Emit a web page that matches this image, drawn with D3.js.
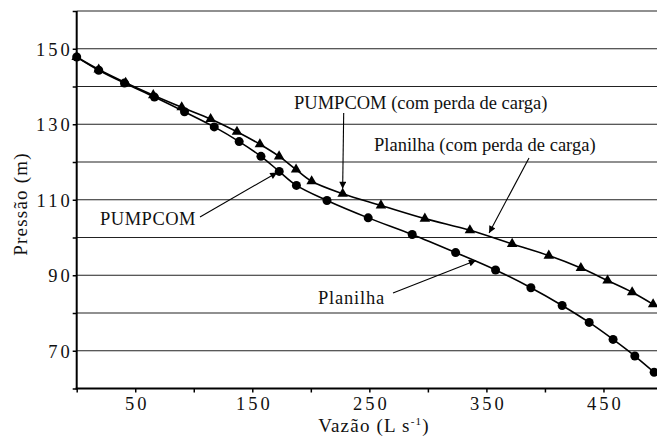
<!DOCTYPE html>
<html><head><meta charset="utf-8">
<script src="https://cdn.jsdelivr.net/npm/d3@7"></script>
<style>body{margin:0;background:#fff} svg{display:block}</style>
</head><body><svg id="c" width="657" height="437"></svg>
<script>
// Planilha / PUMPCOM (sem perda de carga) - circles
const vazaoSem = [0, 18.8, 40.8, 66.4, 92.1, 117.5, 138.8, 157.4, 173.0, 187.7, 213.8, 249.0, 286.6, 323.7, 357.8, 388.0, 414.7, 437.8, 458.2, 476.8, 493.3];
const pressaoSem = [147.8, 144.3, 140.9, 137.2, 133.3, 129.3, 125.4, 121.5, 117.5, 113.8, 109.8, 105.2, 100.8, 96.0, 91.4, 86.7, 82.0, 77.5, 73.0, 68.6, 64.3];
// com perda de carga - triangles
const vazaoCom = [0, 18.8, 41.8, 65.4, 89.7, 114.4, 136.9, 156.5, 172.9, 187.4, 200.7, 227.2, 259.9, 297.4, 335.9, 372.0, 403.3, 430.7, 453.5, 474.5, 492.4];
const pressaoCom = [147.8, 144.5, 141.0, 137.7, 134.5, 131.4, 128.0, 124.7, 121.5, 118.0, 114.9, 111.6, 108.5, 105.0, 101.9, 98.3, 95.2, 91.9, 88.6, 85.5, 82.3];

const xTickValues = [0, 50, 100, 150, 200, 250, 300, 350, 400, 450, 500];
const xTickLabels = [50, 150, 250, 350, 450];
const yTickValues = [60, 70, 80, 90, 100, 110, 120, 130, 140, 150, 160];
const yTickLabels = [70, 90, 110, 130, 150];
const gridValues = [70, 80, 90, 100, 110, 120, 130, 140, 150, 160];

const svg = d3.select('#c');
const W = 657;
const FONT = '"Liberation Serif"';
const x = d3.scaleLinear().domain([0, 500]).range([76.7, 662]);
const y = d3.scaleLinear().domain([60, 160]).range([388.5, 11]);

// gridlines
svg.append('g').selectAll('line').data(gridValues).join('line')
  .attr('x1', x(0)).attr('x2', W)
  .attr('y1', d => y(d)).attr('y2', d => y(d))
  .attr('stroke', '#222').attr('stroke-width', 1.1);

// axes
const yAxis = d3.axisLeft(y).tickValues(yTickValues).tickSize(4)
  .tickFormat(d => yTickLabels.includes(d) ? d : '');
const gy = svg.append('g').attr('transform', `translate(${x(0)},0)`).call(yAxis);
gy.attr('font-family', null);
gy.select('.domain').attr('stroke', '#000').attr('stroke-width', 2).attr('d', `M0,${y(160)}V${y(60)+1}`);
gy.selectAll('.tick line').attr('stroke', '#000').attr('stroke-width', 1.5);
gy.selectAll('.tick text').style('font-family', FONT).attr('font-size', 18.5)
  .attr('letter-spacing', 3).attr('fill', '#111').attr('x', -4).attr('dy', '0.34em');

const xAxis = d3.axisBottom(x).tickValues(xTickValues).tickSize(4)
  .tickFormat(d => xTickLabels.includes(d) ? d : '');
const gx = svg.append('g').attr('transform', `translate(0,${y(60)})`).call(xAxis);
gx.attr('font-family', null);
gx.select('.domain').attr('stroke', '#000').attr('stroke-width', 2).attr('d', `M${x(0)-1},0H${W}`);
gx.selectAll('.tick line').attr('stroke', '#000').attr('stroke-width', 1.5);
gx.selectAll('.tick text').style('font-family', FONT).attr('font-size', 18.5)
  .attr('letter-spacing', 3).attr('fill', '#111').attr('dx', 1.5).attr('y', 8).attr('dy', '0.71em');

// lines
const line = d3.line().x(d => x(d[0])).y(d => y(d[1])).curve(d3.curveCatmullRom.alpha(0.5));
const semPts = vazaoSem.map((v, i) => [v, pressaoSem[i]]);
const comPts = vazaoCom.map((v, i) => [v, pressaoCom[i]]);
svg.append('path').attr('d', line(comPts)).attr('fill', 'none').attr('stroke', '#000').attr('stroke-width', 1.6);
svg.append('path').attr('d', line(semPts)).attr('fill', 'none').attr('stroke', '#000').attr('stroke-width', 1.6);

// markers
svg.append('g').selectAll('path').data(comPts).join('path')
  .attr('d', d3.symbol(d3.symbolTriangle, 48))
  .attr('transform', d => `translate(${x(d[0])},${y(d[1])})`).attr('fill', '#000');
svg.append('g').selectAll('circle').data(semPts).join('circle')
  .attr('cx', d => x(d[0])).attr('cy', d => y(d[1])).attr('r', 4.5).attr('fill', '#000');

// arrow marker
svg.append('defs').append('marker').attr('id', 'arr')
  .attr('viewBox', '0 0 10 10').attr('refX', 10).attr('refY', 5)
  .attr('markerWidth', 8).attr('markerHeight', 7).attr('markerUnits', 'userSpaceOnUse')
  .attr('orient', 'auto')
  .append('path').attr('d', 'M0,0L10,5L0,10z').attr('fill', '#000');

function label(txt, tx, ty, ls) {
  svg.append('text').attr('x', tx).attr('y', ty).text(txt)
    .style('font-family', FONT).attr('font-size', 18.5).attr('letter-spacing', ls).attr('fill', '#111');
}
function arrow(x1, y1, x2, y2) {
  svg.append('line').attr('x1', x1).attr('y1', y1).attr('x2', x2).attr('y2', y2)
    .attr('stroke', '#000').attr('stroke-width', 1.1).attr('marker-end', 'url(#arr)');
}

label('PUMPCOM (com perda de carga)', 294, 109, 0);
arrow(343.7, 113, x(227.2), y(111.6) - 5);

label('Planilha (com perda de carga)', 374, 151, 0);
arrow(529, 158, x(352.3), y(101.2));

label('PUMPCOM', 100, 225, 0.5);
arrow(200, 217, x(173.0) - 2, y(117.5) + 1);

label('Planilha', 318, 304, 0.8);
arrow(393, 293, x(341), y(93.9));

// axis titles
svg.append('text').attr('x', 374).attr('y', 432).attr('text-anchor', 'middle')
  .style('font-family', FONT).attr('font-size', 19).attr('letter-spacing', 1.2).attr('fill', '#111')
  .call(t => {
    t.append('tspan').text('Vazão (L  s');
    t.append('tspan').text('-1').attr('font-size', 11).attr('dy', -7);
    t.append('tspan').text(')').attr('dy', 7);
  });
svg.append('text').attr('transform', 'translate(27,204) rotate(-90)').attr('text-anchor', 'middle')
  .style('font-family', FONT).attr('font-size', 19).attr('letter-spacing', 1.2).attr('fill', '#111')
  .text('Pressão (m)');
</script></body></html>
